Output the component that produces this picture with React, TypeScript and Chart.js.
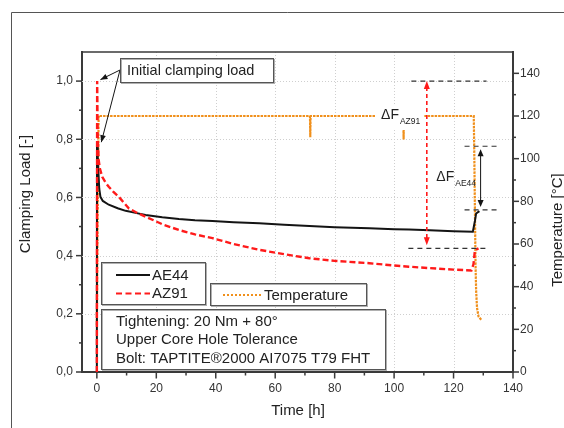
import React, { useEffect, useRef } from 'react';
import { Chart, registerables } from 'chart.js';

Chart.register(...registerables);

const FONT = '"Liberation Sans", Arial, sans-serif';

// Axis ticks
const timeTicks = [0, 20, 40, 60, 80, 100, 120, 140];
const timeMinor = [10, 30, 50, 70, 90, 110, 130];
const loadTicks = [0, 0.2, 0.4, 0.6, 0.8, 1.0];
const loadMinor = [0.1, 0.3, 0.5, 0.7, 0.9];
const tempTicks = [0, 20, 40, 60, 80, 100, 120, 140];
const tempMinor = [10, 30, 50, 70, 90, 110, 130];

// AE44 clamping load [-] over time [h]
const ae44Time = [0, 0.05, 0.3, 0.5, 0.8, 1.2, 2, 4, 7, 9.7, 13, 16.4, 22, 27.6, 33, 38.9, 46, 54.6, 63, 71.5, 80, 91.7, 100, 105, 112, 120, 126.5, 127.2, 127.6, 128.7];
const ae44Load = [0, 0.78, 0.74, 0.69, 0.63, 0.602, 0.588, 0.575, 0.563, 0.554, 0.547, 0.54, 0.532, 0.526, 0.522, 0.519, 0.515, 0.511, 0.506, 0.502, 0.498, 0.494, 0.491, 0.49, 0.487, 0.484, 0.482, 0.52, 0.545, 0.553];

// AZ91 clamping load [-] over time [h]
const az91Time = [0, 0.1, 0.3, 0.6, 1, 1.8, 3, 4, 5.5, 7.4, 9, 10.8, 13, 16.4, 22, 27.6, 33, 38.9, 46, 54.6, 63, 71.5, 80, 91.7, 100, 105, 112, 120, 126, 126.7, 127.1, 127.4, 128.4];
const az91Load = [0, 1.0, 0.8, 0.73, 0.7, 0.671, 0.65, 0.637, 0.62, 0.602, 0.583, 0.562, 0.55, 0.534, 0.508, 0.488, 0.473, 0.46, 0.44, 0.42, 0.405, 0.391, 0.382, 0.374, 0.366, 0.362, 0.357, 0.352, 0.349, 0.37, 0.41, 0.42, 0.425];

// Temperature [°C] over time [h]
const tempTime = [0, 0.3, 0.6, 71.7, 71.8, 71.9, 103.1, 103.2, 103.3, 126.8, 127.0, 127.2, 127.4, 127.6, 127.9, 128.4, 129.3];
const tempValue = [22, 80, 120, 120, 110, 120, 120, 109, 120, 120, 100, 75, 50, 38, 30, 26, 24.5];

// ΔF markers: load levels and where the markers sit on the time axis
const az91Initial = 1.0;
const az91Final = 0.425;
const az91ArrowTime = 111;
const az91RefTop = [105.8, 131.1];
const az91RefBottom = [104.8, 131.5];
const ae44Initial = 0.776;
const ae44Final = 0.557;
const ae44ArrowTime = 129.1;
const ae44Ref = [123.7, 134.8];

// Pointer targets of the "Initial clamping load" callout [time, load]
const pointerRed = [1.2, 1.005];
const pointerBlack = [1.5, 0.79];

const seriesLabels = ['AE44', 'AZ91', 'Temperature'];
const infoLines = ['Tightening: 20 Nm + 80°', 'Upper Core Hole Tolerance', 'Bolt: TAPTITE®2000 AI7075 T79 FHT'];

const BLACK = '#141414';
const RED = '#ff1a1a';
const ORANGE = '#f0901c';
const AXIS = '#3a3a3a';

function toXY(xs: number[], ys: number[]) {
  return xs.map((x, i) => ({ x, y: ys[i] }));
}

function arrowHead(ctx: CanvasRenderingContext2D, tx: number, ty: number, fx: number, fy: number, len: number, half: number, color: string) {
  const a = Math.atan2(ty - fy, tx - fx);
  ctx.save();
  ctx.setLineDash([]);
  ctx.fillStyle = color;
  ctx.beginPath();
  ctx.moveTo(tx, ty);
  ctx.lineTo(tx - len * Math.cos(a) + half * Math.sin(a), ty - len * Math.sin(a) - half * Math.cos(a));
  ctx.lineTo(tx - len * Math.cos(a) - half * Math.sin(a), ty - len * Math.sin(a) + half * Math.cos(a));
  ctx.closePath();
  ctx.fill();
  ctx.restore();
}

function box(ctx: CanvasRenderingContext2D, x: number, y: number, w: number, h: number) {
  ctx.save();
  ctx.setLineDash([]);
  ctx.fillStyle = '#ffffff';
  ctx.fillRect(x, y, w, h);
  ctx.strokeStyle = '#b0b0b0';
  ctx.lineWidth = 1;
  ctx.strokeRect(x + 1.5, y + 1.5, w, h);
  ctx.strokeStyle = '#555555';
  ctx.strokeRect(x + 0.5, y + 0.5, w, h);
  ctx.restore();
}

function hline(ctx: CanvasRenderingContext2D, x1: number, x2: number, y: number) {
  ctx.beginPath();
  ctx.moveTo(x1, y);
  ctx.lineTo(x2, y);
  ctx.stroke();
}

const decorPlugin = {
  id: 'decor',
  beforeDatasetsDraw(chart: any) {
    const { ctx, chartArea: ca, scales } = chart;
    const { x, y } = scales;
    ctx.save();
    ctx.strokeStyle = '#cfcfcf';
    ctx.lineWidth = 1;
    ctx.setLineDash([1, 2]);
    timeTicks.filter((t) => t > 0 && t < 140).forEach((t) => {
      const px = Math.round(x.getPixelForValue(t)) + 0.5;
      ctx.beginPath();
      ctx.moveTo(px, ca.top);
      ctx.lineTo(px, ca.bottom);
      ctx.stroke();
    });
    loadTicks.filter((v) => v > 0).forEach((v) => {
      const py = Math.round(y.getPixelForValue(v)) + 0.5;
      hline(ctx, ca.left, ca.right, py);
    });
    ctx.restore();
  },
  afterDatasetsDraw(chart: any) {
    const { ctx, chartArea: ca, scales } = chart;
    const { x, y, y1 } = scales;
    ctx.save();

    // top frame line of the plot
    ctx.strokeStyle = AXIS;
    ctx.lineWidth = 1.5;
    hline(ctx, ca.left, ca.right, ca.top);

    // tick marks, major and minor, pointing outward
    ctx.lineWidth = 1.5;
    const tickX = (vals: number[], len: number) =>
      vals.forEach((t) => {
        const px = x.getPixelForValue(t);
        ctx.beginPath();
        ctx.moveTo(px, ca.bottom);
        ctx.lineTo(px, ca.bottom + len);
        ctx.stroke();
      });
    const tickY = (scale: any, vals: number[], len: number, side: number) =>
      vals.forEach((v) => {
        const py = scale.getPixelForValue(v);
        const base = side < 0 ? ca.left : ca.right;
        ctx.beginPath();
        ctx.moveTo(base, py);
        ctx.lineTo(base + side * len, py);
        ctx.stroke();
      });
    tickX(timeTicks, 6.5);
    tickX(timeMinor, 3.5);
    tickY(y, loadTicks, 6, -1);
    tickY(y, loadMinor, 3, -1);
    tickY(y1, tempTicks, 6, 1);
    tickY(y1, tempMinor, 3, 1);

    // ΔF reference lines
    ctx.strokeStyle = '#333333';
    ctx.lineWidth = 1.2;
    ctx.setLineDash([5, 4]);
    hline(ctx, x.getPixelForValue(az91RefTop[0]), x.getPixelForValue(az91RefTop[1]), y.getPixelForValue(az91Initial));
    hline(ctx, x.getPixelForValue(az91RefBottom[0]), x.getPixelForValue(az91RefBottom[1]), y.getPixelForValue(az91Final));
    hline(ctx, x.getPixelForValue(ae44Ref[0]), x.getPixelForValue(ae44Ref[1]), y.getPixelForValue(ae44Initial));
    hline(ctx, x.getPixelForValue(ae44Ref[0]), x.getPixelForValue(ae44Ref[1]), y.getPixelForValue(ae44Final));

    // ΔF AZ91: red dashed double arrow
    const ax = x.getPixelForValue(az91ArrowTime);
    const aTop = y.getPixelForValue(az91Initial);
    const aBot = y.getPixelForValue(az91Final) - 3;
    ctx.strokeStyle = RED;
    ctx.lineWidth = 1.6;
    ctx.setLineDash([4, 3]);
    ctx.beginPath();
    ctx.moveTo(ax, aTop + 6);
    ctx.lineTo(ax, aBot - 6);
    ctx.stroke();
    arrowHead(ctx, ax, aTop, ax, aTop + 10, 8, 3, RED);
    arrowHead(ctx, ax, aBot, ax, aBot - 10, 8, 3, RED);

    // ΔF AE44: black double arrow
    const bx = x.getPixelForValue(ae44ArrowTime);
    const bTop = y.getPixelForValue(ae44Initial) + 3;
    const bBot = y.getPixelForValue(ae44Final) - 3;
    ctx.strokeStyle = BLACK;
    ctx.lineWidth = 1;
    ctx.setLineDash([]);
    ctx.beginPath();
    ctx.moveTo(bx, bTop + 5);
    ctx.lineTo(bx, bBot - 5);
    ctx.stroke();
    arrowHead(ctx, bx, bTop, bx, bTop + 10, 7, 3, BLACK);
    arrowHead(ctx, bx, bBot, bx, bBot - 10, 7, 3, BLACK);

    // ΔF labels
    const label = (lx: number, ly: number, sub: string, bg: boolean) => {
      ctx.font = `14px ${FONT}`;
      const w1 = ctx.measureText('ΔF').width;
      ctx.font = `8.5px ${FONT}`;
      const w2 = ctx.measureText(sub).width;
      if (bg) {
        ctx.fillStyle = '#ffffff';
        ctx.fillRect(lx - 5, ly - 10, w1 + w2 + 10, 25);
      }
      ctx.fillStyle = '#222222';
      ctx.textBaseline = 'middle';
      ctx.textAlign = 'left';
      ctx.font = `14px ${FONT}`;
      ctx.fillText('ΔF', lx, ly);
      ctx.font = `8.5px ${FONT}`;
      ctx.fillText(sub, lx + w1 + 1, ly + 7);
    };
    label(x.getPixelForValue(95.6), y1.getPixelForValue(120) - 1, 'AZ91', true);
    label(x.getPixelForValue(114.2), y.getPixelForValue(0.67), 'AE44', false);

    ctx.restore();
  },
  afterDraw(chart: any) {
    const { ctx, scales } = chart;
    const { x, y } = scales;
    ctx.save();

    // outer frame
    ctx.strokeStyle = '#555555';
    ctx.lineWidth = 1;
    ctx.beginPath();
    ctx.moveTo(11.5, 428);
    ctx.lineTo(11.5, 12.5);
    ctx.lineTo(564, 12.5);
    ctx.stroke();

    // axis titles
    ctx.fillStyle = '#222222';
    ctx.font = `15px ${FONT}`;
    ctx.textAlign = 'center';
    ctx.textBaseline = 'middle';
    ctx.fillText('Time [h]', 298, 411);
    ctx.save();
    ctx.translate(25.5, 194);
    ctx.rotate(-Math.PI / 2);
    ctx.fillText('Clamping Load [-]', 0, 0);
    ctx.restore();
    ctx.save();
    ctx.translate(557.5, 230);
    ctx.rotate(-Math.PI / 2);
    ctx.fillText('Temperature [°C]', 0, 0);
    ctx.restore();

    // "Initial clamping load" callout with pointers
    const ox = 120;
    const oy = 70;
    ctx.strokeStyle = BLACK;
    ctx.lineWidth = 1;
    [pointerRed, pointerBlack].forEach(([t, v]) => {
      const px = x.getPixelForValue(t);
      const py = y.getPixelForValue(v);
      ctx.beginPath();
      ctx.moveTo(ox, oy);
      ctx.lineTo(px, py);
      ctx.stroke();
      arrowHead(ctx, px, py, ox, oy, 7, 2.8, BLACK);
    });
    box(ctx, 120, 58, 153, 24);
    ctx.fillStyle = '#222222';
    ctx.textAlign = 'left';
    ctx.font = `14.5px ${FONT}`;
    ctx.fillText('Initial clamping load', 127, 70.5);

    // series legend
    ctx.font = `15px ${FONT}`;
    box(ctx, 101, 262, 104, 42);
    ctx.lineWidth = 2;
    ctx.strokeStyle = BLACK;
    hline(ctx, 116, 150, 275);
    ctx.strokeStyle = RED;
    ctx.setLineDash([6, 3.5]);
    hline(ctx, 116, 150, 293.5);
    ctx.setLineDash([]);
    ctx.fillStyle = '#222222';
    ctx.fillText(seriesLabels[0], 152, 275.5);
    ctx.fillText(seriesLabels[1], 152, 294);

    box(ctx, 210, 283, 156, 22);
    ctx.strokeStyle = ORANGE;
    ctx.lineWidth = 2;
    ctx.setLineDash([2, 2]);
    hline(ctx, 223, 262, 295);
    ctx.setLineDash([]);
    ctx.fillText(seriesLabels[2], 264, 295.5);

    // test conditions
    box(ctx, 101, 309, 284, 60);
    infoLines.forEach((line, i) => ctx.fillText(line, 116, 321.5 + i * 18.5));

    ctx.restore();
  },
};

export default function App() {
  const canvasRef = useRef<HTMLCanvasElement | null>(null);

  useEffect(() => {
    const canvas = canvasRef.current;
    if (!canvas) return;
    Chart.defaults.font.family = FONT;
    const tickFont = { family: FONT, size: 12 };
    const chart = new Chart(canvas, {
      type: 'line',
      data: {
        datasets: [
          {
            label: seriesLabels[2],
            data: toXY(tempTime, tempValue),
            yAxisID: 'y1',
            borderColor: ORANGE,
            borderWidth: 2.2,
            borderDash: [2.5, 1],
            pointRadius: 0,
            tension: 0,
            order: 3,
          },
          {
            label: seriesLabels[0],
            data: toXY(ae44Time, ae44Load),
            yAxisID: 'y',
            borderColor: BLACK,
            borderWidth: 2,
            pointRadius: 0,
            tension: 0,
            order: 2,
          },
          {
            label: seriesLabels[1],
            data: toXY(az91Time, az91Load),
            yAxisID: 'y',
            borderColor: RED,
            borderWidth: 2.4,
            borderDash: [6, 3],
            pointRadius: 0,
            tension: 0,
            order: 1,
          },
        ],
      },
      options: {
        animation: false,
        responsive: false,
        maintainAspectRatio: false,
        layout: { padding: { top: 52, left: 0, right: 0, bottom: 0 } },
        plugins: { legend: { display: false }, tooltip: { enabled: false } },
        scales: {
          x: {
            type: 'linear',
            min: -5,
            max: 140,
            afterBuildTicks: (s: any) => {
              s.ticks = timeTicks.map((value) => ({ value }));
            },
            afterFit: (s: any) => {
              s.height = 56;
            },
            ticks: { font: tickFont, color: '#333333', padding: 9, maxRotation: 0, autoSkip: false },
            grid: { display: false, drawTicks: false },
            border: { display: true, color: AXIS, width: 2 },
          },
          y: {
            type: 'linear',
            position: 'left',
            min: 0,
            max: 1.1,
            afterBuildTicks: (s: any) => {
              s.ticks = loadTicks.map((value) => ({ value }));
            },
            afterFit: (s: any) => {
              s.width = 82;
            },
            ticks: {
              font: tickFont,
              color: '#333333',
              padding: 9,
              callback: (v: any) => Number(v).toFixed(1).replace('.', ','),
            },
            grid: { display: false, drawTicks: false },
            border: { display: true, color: AXIS, width: 2 },
          },
          y1: {
            type: 'linear',
            position: 'right',
            min: 0,
            max: 150,
            afterBuildTicks: (s: any) => {
              s.ticks = tempTicks.map((value) => ({ value }));
            },
            afterFit: (s: any) => {
              s.width = 51;
            },
            ticks: { font: tickFont, color: '#333333', padding: 7 },
            grid: { display: false, drawTicks: false },
            border: { display: true, color: AXIS, width: 2 },
          },
        },
      },
      plugins: [decorPlugin],
    });
    return () => chart.destroy();
  }, []);

  return (
    <div style={{ position: 'fixed', left: 0, top: 0, width: 564, height: 428, background: '#ffffff' }}>
      <canvas ref={canvasRef} width={564} height={428} />
    </div>
  );
}
